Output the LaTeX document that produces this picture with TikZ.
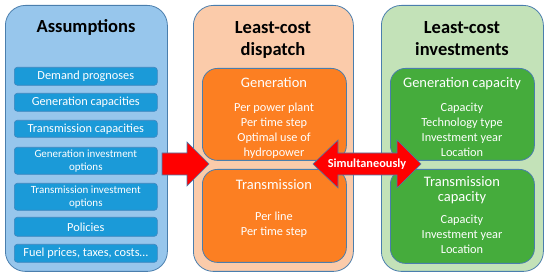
\documentclass[tikz,border=0pt]{standalone}
\usepackage{fontspec}
\setmainfont{Carlito}
\definecolor{bluebg}{HTML}{97C6EC}
\definecolor{blueln}{HTML}{3E86BF}
\definecolor{bluebox}{HTML}{1B9AD8}
\definecolor{peach}{HTML}{FBCBAA}
\definecolor{orangebox}{HTML}{FC7F22}
\definecolor{lgreen}{HTML}{C3E2B8}
\definecolor{gbox}{HTML}{45AC3C}
\definecolor{outl}{HTML}{4A7EAD}
\begin{document}
\begin{tikzpicture}[x=1pt,y=-1pt,
  panel/.style={draw=outl, line width=0.8pt, rounded corners=20pt, inner sep=0pt,
    anchor=north west, minimum width=162pt, minimum height=266pt},
  listbox/.style={draw=blueln, line width=0.6pt, fill=bluebox, rounded corners=3pt,
    inner sep=0pt, anchor=north west, minimum width=143pt, text=white, align=center,
    font=\fontsize{12.3}{14}\selectfont},
  smallbox/.style={listbox, font=\fontsize{11}{13}\selectfont},
  innerbox/.style={draw=outl, line width=0.8pt, rounded corners=15pt, inner sep=0pt,
    anchor=north west, minimum width=144pt},
  title/.style={anchor=base, font=\bfseries\fontsize{18.5}{22}\selectfont, inner sep=0pt},
  head/.style={anchor=base, text=white, font=\fontsize{14.5}{15}\selectfont, inner sep=0pt},
  body/.style={anchor=base, text=white, font=\fontsize{12.3}{14.7}\selectfont, inner sep=0pt},
  bigarrow/.style={fill=red, draw=outl, line width=0.6pt, line join=miter}
]
\useasboundingbox (0,0) rectangle (550,280);

% panels
\node[panel, fill=bluebg] (assump) at (5,5) {};
\node[panel, fill=peach, minimum width=160pt] (dispatch) at (193,5) {};
\node[panel, fill=lgreen] (invest) at (381,5) {};

% titles
\node[title] (t1) at (86,33) {Assumptions};
\node[title] (t2a) at (273,34) {Least-cost};
\node[title] (t2b) at (273,56) {dispatch};
\node[title] (t3a) at (462,34) {Least-cost};
\node[title] (t3b) at (462,56) {investments};

% assumption list
\node[listbox, minimum height=18pt] (a1) at (14,67) {Demand prognoses};
\node[listbox, minimum height=18pt] (a2) at (14,93) {Generation capacities};
\node[listbox, minimum height=17pt] (a3) at (14,120) {Transmission capacities};
\node[smallbox, minimum height=27pt] (a4) at (14,147) {Generation investment\\options};
\node[smallbox, minimum height=27pt] (a5) at (14,183) {Transmission investment\\options};
\node[listbox, minimum height=19pt] (a6) at (14,217) {Policies};
\node[listbox, minimum height=18pt] (a7) at (14,244) {Fuel prices, taxes, costs\dots};

% dispatch boxes
\node[innerbox, fill=orangebox, minimum height=92pt] (gen) at (202,68) {};
\node[innerbox, fill=orangebox, minimum height=93pt] (trans) at (202,169) {};
\node[head] (genh) at (274,88) {Generation};
\node[body] (gb1) at (274,112) {Per power plant};
\node[body] (gb2) at (274,126.7) {Per time step};
\node[body] (gb3) at (274,141.4) {Optimal use of};
\node[body] (gb4) at (274,156.1) {hydropower};
\node[head] (transh) at (274,190) {Transmission};
\node[body] (tb1) at (274,220.5) {Per line};
\node[body] (tb2) at (274,235.2) {Per time step};

% investment boxes
\node[innerbox, fill=gbox, minimum height=92pt] (gcap) at (390,68) {};
\node[innerbox, fill=gbox, minimum height=94pt] (tcap) at (390,169) {};
\node[head] (gcaph) at (462,88) {Generation capacity};
\node[body] (gc1) at (462,112) {Capacity};
\node[body] (gc2) at (462,126.7) {Technology type};
\node[body] (gc3) at (462,141.4) {Investment year};
\node[body] (gc4) at (462,156.1) {Location};
\node[head] (tcaph1) at (462,187) {Transmission};
\node[head] (tcaph2) at (462,202) {capacity};
\node[body] (tc1) at (462,224) {Capacity};
\node[body] (tc2) at (462,238.7) {Investment year};
\node[body] (tc3) at (462,253.4) {Location};

% arrows
\coordinate (arrL) at (162,164);
\draw[bigarrow] (arrL) ++(0,-11) -- ++(25,0) -- ++(0,-11) -- ++(22,22) -- ++(-22,22)
  -- ++(0,-11) -- ++(-25,0) -- cycle;
\coordinate (arrS) at (313,164);
\draw[bigarrow] (arrS) -- ++(25,-24) -- ++(0,13) -- ++(59,0) -- ++(0,-13) -- ++(24,24)
  -- ++(-24,24) -- ++(0,-13) -- ++(-59,0) -- ++(0,13) -- cycle;
\node[text=white, font=\bfseries\fontsize{12.3}{14}\selectfont, inner sep=0pt]
  (simul) at (367,164) {Simultaneously};
\end{tikzpicture}
\end{document}
